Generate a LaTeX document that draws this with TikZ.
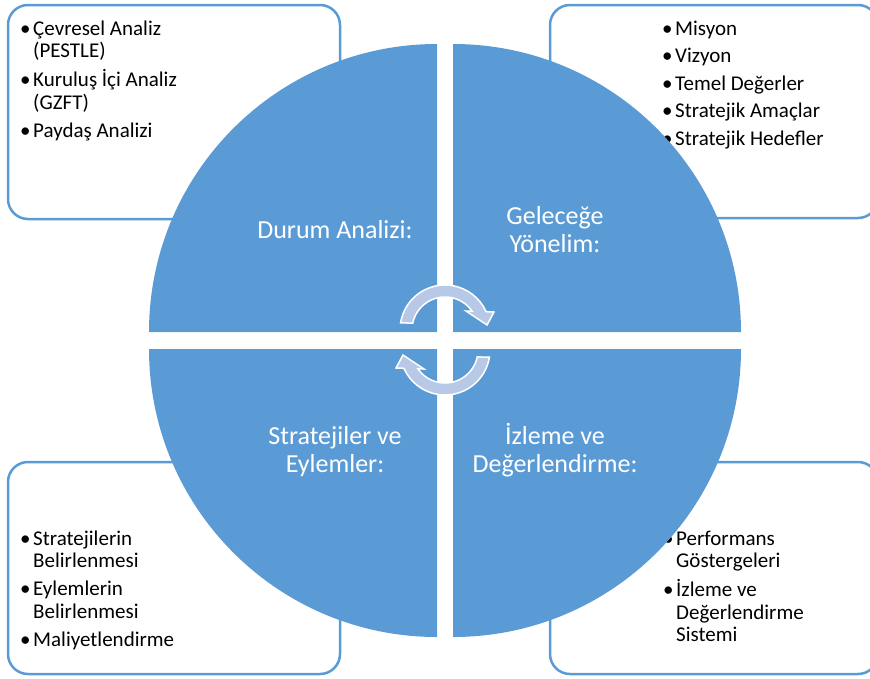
\documentclass[tikz,border=0pt]{standalone}
\usepackage{fontspec}
\setmainfont{Carlito}
\definecolor{qblue}{HTML}{5B9BD5}
\definecolor{arrowfill}{RGB}{183,201,231}
\newcommand{\bul}{\makebox[13pt][l]{•}}
\begin{document}
\begin{tikzpicture}[x=1pt,y=-1pt,
  infobox/.style={draw=qblue, line width=2.5pt, rounded corners=20pt, fill=white},
  quad/.style={fill=qblue},
  itemtext/.style={anchor=base west, inner sep=0pt, font=\fontsize{21}{22.5}\selectfont},
  quadtext/.style={anchor=base, inner sep=0pt, text=white, font=\fontsize{26}{28.5}\selectfont},
  cyc/.style={fill=arrowfill, draw=white, line width=1.5pt, line join=miter}
]
\clip (0,0) rectangle (870,678);
% boxes
\draw[infobox] (8,5) rectangle (340,219);
\draw[infobox] (550,5) rectangle (878,218);
\draw[infobox] (8,462) rectangle (340,674);
\draw[infobox] (550,462) rectangle (878,674);
% box texts
\node[itemtext] (tTL) at (20,35) {\begin{tabular}[t]{@{}l@{}}
\bul Çevresel Analiz\\ \hspace*{13pt}(PESTLE)\\[5.5pt]
\bul Kuruluş İçi Analiz\\ \hspace*{13pt}(GZFT)\\[5.5pt]
\bul Paydaş Analizi\end{tabular}};
\node[itemtext] (tTR) at (662,35) {\begin{tabular}[t]{@{}l@{}}
\bul Misyon\\[5pt]
\bul Vizyon\\[5pt]
\bul Temel Değerler\\[5pt]
\bul Stratejik Amaçlar\\[5pt]
\bul Stratejik Hedefler\end{tabular}};
\node[itemtext] (tBL) at (20,545) {\begin{tabular}[t]{@{}l@{}}
\bul Stratejilerin\\ \hspace*{13pt}Belirlenmesi\\[5.5pt]
\bul Eylemlerin\\ \hspace*{13pt}Belirlenmesi\\[5.5pt]
\bul Maliyetlendirme\end{tabular}};
\node[itemtext] (tBR) at (663,545) {\begin{tabular}[t]{@{}l@{}}
\bul Performans\\ \hspace*{13pt}Göstergeleri\\[5.5pt]
\bul İzleme ve\\ \hspace*{13pt}Değerlendirme\\ \hspace*{13pt}Sistemi\end{tabular}};
% quadrants
\fill[quad] (437,332) -- (149,332) arc[start angle=180, end angle=270, radius=288] -- cycle;
\fill[quad] (453,332) -- (453,44) arc[start angle=270, end angle=360, radius=288] -- cycle;
\fill[quad] (453,349) -- (741,349) arc[start angle=0, end angle=90, radius=288] -- cycle;
\fill[quad] (437,349) -- (437,637) arc[start angle=90, end angle=180, radius=288] -- cycle;
% quadrant labels
\node[quadtext] (lTL) at (335,238) {Durum Analizi:};
\node[quadtext] (lTR) at (555,224) {\begin{tabular}[t]{@{}c@{}}Geleceğe\\ Yönelim:\end{tabular}};
\node[quadtext] (lBL) at (335,444) {\begin{tabular}[t]{@{}c@{}}Stratejiler ve\\ Eylemler:\end{tabular}};
\node[quadtext] (lBR) at (555,444) {\begin{tabular}[t]{@{}c@{}}İzleme ve\\ Değerlendirme:\end{tabular}};
% cycle arrows
\begin{scope}[shift={(445,330)}]
\path[cyc] (189:45) arc[start angle=189, end angle=336, radius=45] -- (49,-18) -- (42,-5) -- (21,-19) -- (325:33) arc[start angle=325, end angle=192.2, radius=33] -- cycle;
\end{scope}
\begin{scope}[shift={(445,350)}, rotate=180]
\path[cyc] (189:45) arc[start angle=189, end angle=336, radius=45] -- (49,-18) -- (42,-5) -- (21,-19) -- (325:33) arc[start angle=325, end angle=192.2, radius=33] -- cycle;
\end{scope}
\end{tikzpicture}
\end{document}
